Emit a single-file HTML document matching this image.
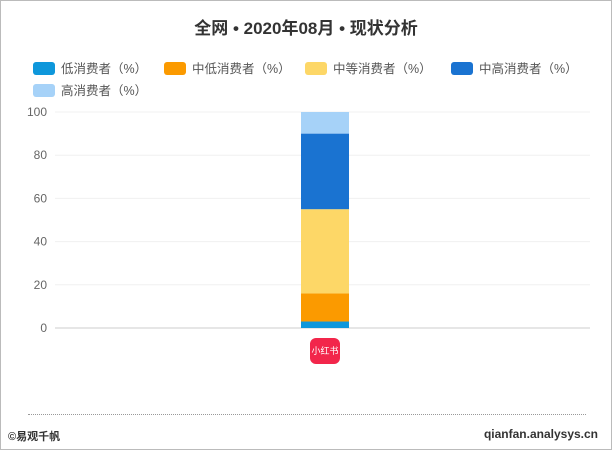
<!DOCTYPE html>
<html><head><meta charset="utf-8">
<style>
body{margin:0;width:612px;height:450px;overflow:hidden;background:#fff;font-family:"Liberation Sans","Noto Sans CJK SC",sans-serif;}
#wrap{position:absolute;left:0;top:0;width:610px;height:448px;border:1px solid #bbb;}
.t{position:absolute;white-space:nowrap;}
.leg{position:absolute;font-size:12.5px;color:#555;white-space:nowrap;}
.sw{display:inline-block;width:22px;height:13px;border-radius:3px;vertical-align:-2px;margin-right:6px;}
</style></head><body>
<div id="wrap"></div>
<div class="t" style="left:0;width:612px;text-align:center;top:14px;font-size:17px;font-weight:bold;color:#333;">全网 • 2020年08月 • 现状分析</div>
<div class="leg" style="left:33px;top:58px"><span class="sw" style="background:#0e97db"></span>低消费者（%）</div>
<div class="leg" style="left:164px;top:58px"><span class="sw" style="background:#fb9a00"></span>中低消费者（%）</div>
<div class="leg" style="left:305px;top:58px"><span class="sw" style="background:#fdd767"></span>中等消费者（%）</div>
<div class="leg" style="left:451px;top:58px"><span class="sw" style="background:#1a73d1"></span>中高消费者（%）</div>
<div class="leg" style="left:33px;top:80px"><span class="sw" style="background:#a6d2f8"></span>高消费者（%）</div>
<svg id="chart" width="612" height="450" style="position:absolute;left:0;top:0"></svg>
<div class="t" style="left:310px;top:338px;width:30px;height:26px;background:#f2264b;border-radius:6px;color:#fff;font-size:9px;line-height:26px;text-align:center;">小红书</div>
<div class="t" style="left:28px;top:414px;width:558px;border-top:1px dotted #999;"></div>
<div class="t" style="left:8px;top:428px;font-size:11px;font-weight:bold;color:#333;">©易观千帆</div>
<div class="t" style="right:14px;top:427px;font-size:12px;font-weight:bold;color:#333;">qianfan.analysys.cn</div>
<script>
const ticks=[0,20,40,60,80,100];
const seriesNames=["低消费者","中低消费者","中等消费者","中高消费者","高消费者"];
const seriesValues=[3,13,39,35,10];
const colors=["#0e97db","#fb9a00","#fdd767","#1a73d1","#a6d2f8"];
const svg=document.getElementById('chart');
const NS='http://www.w3.org/2000/svg';
const y0=328,y1=112,x0=55,x1=590;
function y(v){return y0-(v/100)*(y0-y1);}
ticks.forEach(t=>{
 const l=document.createElementNS(NS,'line');
 l.setAttribute('x1',x0);l.setAttribute('x2',x1);l.setAttribute('y1',y(t));l.setAttribute('y2',y(t));
 l.setAttribute('stroke',t===0?'#ccc':'#f0f0f0');
 
 
 svg.appendChild(l);
 const tx=document.createElementNS(NS,'text');
 tx.setAttribute('x',47);tx.setAttribute('y',y(t)+4);tx.setAttribute('text-anchor','end');
 tx.setAttribute('font-size','12');tx.setAttribute('fill','#666');
 tx.setAttribute('font-family','Liberation Sans, sans-serif');
 tx.textContent=t;
 
 
 svg.appendChild(tx);
});
let acc=0;
seriesValues.forEach((v,i)=>{
 const r=document.createElementNS(NS,'rect');
 r.setAttribute('x',301);r.setAttribute('width',48);
 r.setAttribute('y',y(acc+v));r.setAttribute('height',y(acc)-y(acc+v));
 r.setAttribute('fill',colors[i]);
 
 
 svg.appendChild(r);
 acc+=v;
});
</script>
</body></html>
